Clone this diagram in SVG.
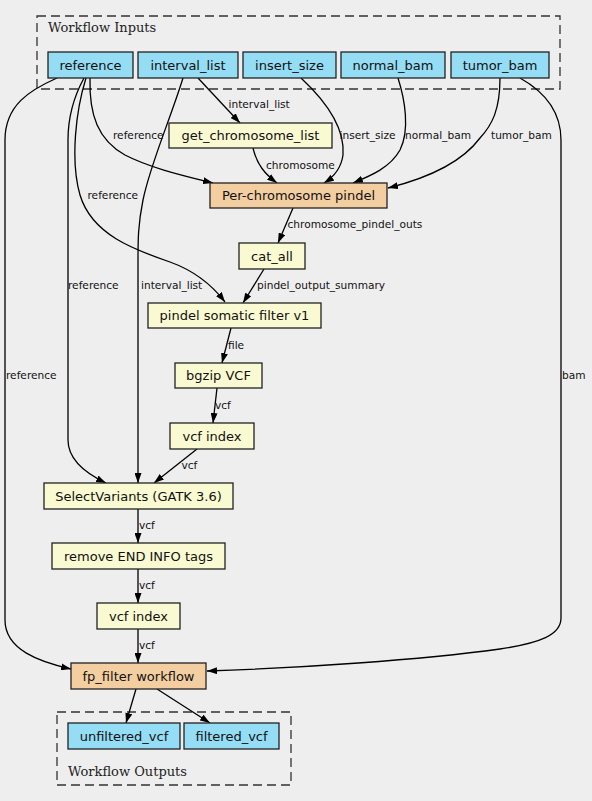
<svg xmlns="http://www.w3.org/2000/svg" width="592" height="801" viewBox="0 0 592 801">
<style>
.bg{fill:#eeeeee}
.cl{fill:none;stroke:#333;stroke-width:1.3;stroke-dasharray:9,5}
.clt{font-family:"DejaVu Serif",serif;font-size:13px;fill:#222}
.n rect{stroke:#222;stroke-width:1.3}
.n text{font-family:"DejaVu Sans",sans-serif;font-size:13px;fill:#111;text-anchor:middle}
.inp rect{fill:#94ddf4}
.stp rect{fill:#fafad2}
.sub rect{fill:#f3cea1}
.e path{fill:none;stroke:#000;stroke-width:1.3;marker-end:url(#ah)}
.el{font-family:"DejaVu Sans",sans-serif;font-size:10.6px;fill:#111}
</style>
<defs>
<marker id="ah" viewBox="0 0 10 7" refX="10" refY="3.5" markerWidth="10" markerHeight="7" markerUnits="userSpaceOnUse" orient="auto">
<path d="M0,0 L10,3.5 L0,7 z" fill="#000"/>
</marker>
</defs>
<rect class="bg" x="0" y="0" width="592" height="801"/>
<g id="cluster_inputs">
<rect class="cl" x="37" y="16" width="523" height="73"/>
<text class="clt" x="48" y="31.5">Workflow Inputs</text>
</g>
<g id="cluster_outputs">
<rect class="cl" x="57" y="712" width="234" height="73"/>
<text class="clt" x="68" y="776">Workflow Outputs</text>
</g>
<g id="edges" class="e">
<path d="M198,78 L240,123"/>
<path d="M90,78 C89,115 98,140 125,155 C150,168 185,176 213,183"/>
<path d="M86,78 C76,110 70,160 80,195 C92,235 135,250 170,262 C195,271 212,285 225,302"/>
<path d="M84,78 C72,100 68,120 68,140 L68,440 C68,460 85,473 106,483"/>
<path d="M57,78 C30,90 5,105 5,140 L5,620 C5,650 40,662 71,669"/>
<path d="M183,78 C170,120 150,165 143,200 C138,225 138,240 138,260 L138,483"/>
<path d="M301,78 C330,105 345,130 343,155 C341,170 332,178 324,183"/>
<path d="M398,78 C405,100 410,130 400,150 C390,168 370,176 353,183"/>
<path d="M500,78 C500,110 492,125 480,138 C460,165 420,180 388,188"/>
<path d="M520,78 C545,92 561,112 561,140 L561,618 C561,635 540,643 500,649 C420,660 300,668 207,671"/>
<path d="M253,148 C257,165 265,174 277,183"/>
<path d="M293,208 L278,243"/>
<path d="M264,269 L243,303"/>
<path d="M231,328 L222,363"/>
<path d="M217,388 L213,423"/>
<path d="M197,449 L154,483"/>
<path d="M138,509 L138,543"/>
<path d="M138,569 L138,603"/>
<path d="M138,629 L138,663"/>
<path d="M136,689 L126,723"/>
<path d="M157,689 L210,723"/>
</g>
<g id="edge_labels">
<text class="el" x="228.5" y="108">interval_list</text>
<text class="el" x="113" y="139">reference</text>
<text class="el" x="339.5" y="138.5">insert_size</text>
<text class="el" x="405" y="138.5">normal_bam</text>
<text class="el" x="491" y="138.5">tumor_bam</text>
<text class="el" x="266" y="168.5">chromosome</text>
<text class="el" x="87.5" y="199">reference</text>
<text class="el" x="287.5" y="228">chromosome_pindel_outs</text>
<text class="el" x="257" y="289">pindel_output_summary</text>
<text class="el" x="68" y="289">reference</text>
<text class="el" x="141" y="289">interval_list</text>
<text class="el" x="6" y="379">reference</text>
<text class="el" x="562" y="379">bam</text>
<text class="el" x="228" y="349">file</text>
<text class="el" x="215" y="409">vcf</text>
<text class="el" x="181.5" y="469">vcf</text>
<text class="el" x="139" y="529">vcf</text>
<text class="el" x="139" y="589">vcf</text>
<text class="el" x="139" y="649">vcf</text>
</g>
<g id="reference" class="n inp"><rect x="48" y="52" width="85" height="26"/><text x="90.5" y="69.6">reference</text></g>
<g id="interval_list" class="n inp"><rect x="138" y="52" width="100" height="26"/><text x="188" y="69.6">interval_list</text></g>
<g id="insert_size" class="n inp"><rect x="243" y="52" width="93" height="26"/><text x="289.5" y="69.6">insert_size</text></g>
<g id="normal_bam" class="n inp"><rect x="341" y="52" width="104" height="26"/><text x="393" y="69.6">normal_bam</text></g>
<g id="tumor_bam" class="n inp"><rect x="451" y="52" width="98" height="26"/><text x="500" y="69.6">tumor_bam</text></g>
<g id="get_chromosome_list" class="n stp"><rect x="169" y="123" width="163" height="25"/><text x="250.5" y="140.1">get_chromosome_list</text></g>
<g id="per_chromosome_pindel" class="n sub"><rect x="210" y="183" width="177" height="25"/><text x="298.5" y="200.1">Per-chromosome pindel</text></g>
<g id="cat_all" class="n stp"><rect x="239" y="243" width="66" height="26"/><text x="272" y="260.6">cat_all</text></g>
<g id="pindel_somatic_filter" class="n stp"><rect x="148" y="303" width="173" height="25"/><text x="234.5" y="320.1">pindel somatic filter v1</text></g>
<g id="bgzip_vcf" class="n stp"><rect x="175" y="363" width="87" height="25"/><text x="218.5" y="380.1">bgzip VCF</text></g>
<g id="vcf_index_1" class="n stp"><rect x="170" y="423" width="84" height="26"/><text x="212" y="440.6">vcf index</text></g>
<g id="select_variants" class="n stp"><rect x="44" y="483" width="189" height="26"/><text x="138.5" y="500.6">SelectVariants (GATK 3.6)</text></g>
<g id="remove_end_info" class="n stp"><rect x="52" y="543" width="173" height="26"/><text x="138.5" y="560.6">remove END INFO tags</text></g>
<g id="vcf_index_2" class="n stp"><rect x="97" y="603" width="83" height="26"/><text x="138.5" y="620.6">vcf index</text></g>
<g id="fp_filter" class="n sub"><rect x="71" y="663" width="135" height="26"/><text x="138.5" y="680.6">fp_filter workflow</text></g>
<g id="unfiltered_vcf" class="n inp"><rect x="68" y="723" width="112" height="26"/><text x="124" y="740.6">unfiltered_vcf</text></g>
<g id="filtered_vcf" class="n inp"><rect x="184" y="723" width="95" height="26"/><text x="231.5" y="740.6">filtered_vcf</text></g>
</svg>
